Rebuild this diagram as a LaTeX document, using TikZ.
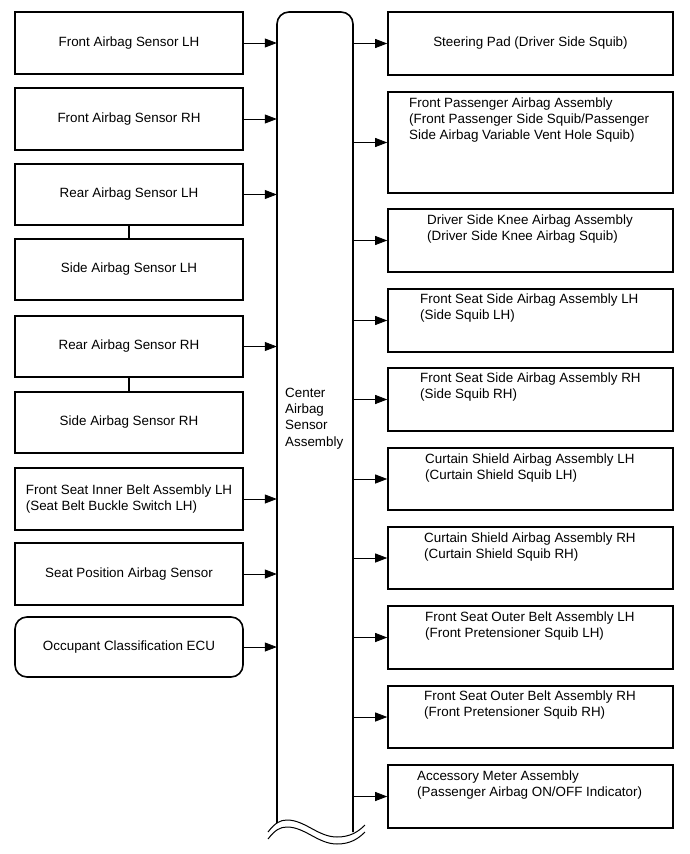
\documentclass[tikz,border=0pt]{standalone}
\usepackage{fontspec}
\setmainfont{Liberation Sans}
\usetikzlibrary{arrows.meta}
\begin{document}
\begin{tikzpicture}[x=1pt,y=-1pt,
  every node/.style={font=\fontsize{13.4}{16.3}\selectfont},
  lbox/.style={draw,line width=1.6pt,minimum width=228pt,minimum height=62pt,inner sep=0pt,align=center},
  rbox/.style={draw,line width=1.6pt,minimum width=285pt,inner sep=0pt},
  txt/.style={anchor=base west,inner sep=0pt,align=left},
  conn/.style={line width=0.8pt,-{Triangle[length=12pt,width=9pt]}},
  link/.style={line width=1.2pt}]
\useasboundingbox (0,0) rectangle (690,854);
% left boxes
\node[lbox] (l1) at (129,43) {Front Airbag Sensor LH};
\node[lbox] (l2) at (129,119) {Front Airbag Sensor RH};
\node[lbox,minimum height=61pt] (l3) at (129,194.5) {Rear Airbag Sensor LH};
\node[lbox,minimum height=61pt] (l4) at (129,269.5) {Side Airbag Sensor LH};
\node[lbox,minimum height=61pt] (l5) at (129,346.5) {Rear Airbag Sensor RH};
\node[lbox,minimum height=61pt] (l6) at (129,422.5) {Side Airbag Sensor RH};
\node[lbox,align=left] (l7) at (129,499) {Front Seat Inner Belt Assembly LH\\(Seat Belt Buckle Switch LH)};
\node[lbox] (l8) at (129,574) {Seat Position Airbag Sensor};
\node[lbox,rounded corners=12pt,minimum height=60pt] (l9) at (129,647) {Occupant Classification ECU};
\draw[link] (l3.south) -- (l4.north);
\draw[link] (l5.south) -- (l6.north);
% center box
\node[minimum width=76pt,minimum height=811pt,inner sep=0pt] (cab) at (315,417.5) {};
\draw[line width=1.6pt,rounded corners=12pt] (277,823) -- (277,12) -- (353,12) -- (353,832);
\draw[line width=1pt] (268,832) .. controls (275,823) and (280,820) .. (287,820) .. controls (305,820) and (318,837) .. (337,837) .. controls (350,837) and (358,832) .. (365,825);
\draw[line width=1pt] (268,839) .. controls (275,830) and (280,827) .. (287,827) .. controls (305,827) and (318,844) .. (337,844) .. controls (350,844) and (358,839) .. (365,832);
\node[txt] (ctext) at (285,446) {Center\\Airbag\\Sensor\\Assembly};
% right boxes
\node[rbox,minimum height=63pt,align=center] (r1) at (530.5,43.5) {Steering Pad (Driver Side Squib)};
\node[rbox,minimum height=101pt] (r2) at (530.5,142.5) {};
\node[rbox,minimum height=63pt] (r3) at (530.5,240.5) {};
\node[rbox,minimum height=63pt] (r4) at (530.5,320.5) {};
\node[rbox,minimum height=63pt] (r5) at (530.5,399.5) {};
\node[rbox,minimum height=62pt] (r6) at (530.5,479) {};
\node[rbox,minimum height=62pt] (r7) at (530.5,558) {};
\node[rbox,minimum height=63pt] (r8) at (530.5,637.5) {};
\node[rbox,minimum height=62pt] (r9) at (530.5,717) {};
\node[rbox,minimum height=63pt] (r10) at (530.5,796.5) {};
\node[txt] (t2) at (409,139.6) {Front Passenger Airbag Assembly\\(Front Passenger Side Squib/Passenger\\Side Airbag Variable Vent Hole Squib)};
\node[txt] (t3) at (427,240.3) {Driver Side Knee Airbag Assembly\\(Driver Side Knee Airbag Squib)};
\node[txt] (t4) at (420,319.3) {Front Seat Side Airbag Assembly LH\\(Side Squib LH)};
\node[txt] (t5) at (420,398.3) {Front Seat Side Airbag Assembly RH\\(Side Squib RH)};
\node[txt] (t6) at (425,479.3) {Curtain Shield Airbag Assembly LH\\(Curtain Shield Squib LH)};
\node[txt] (t7) at (424,558.3) {Curtain Shield Airbag Assembly RH\\(Curtain Shield Squib RH)};
\node[txt] (t8) at (425,637.3) {Front Seat Outer Belt Assembly LH\\(Front Pretensioner Squib LH)};
\node[txt] (t9) at (424,716.3) {Front Seat Outer Belt Assembly RH\\(Front Pretensioner Squib RH)};
\node[txt] (t10) at (417,796.3) {Accessory Meter Assembly\\(Passenger Airbag ON/OFF Indicator)};
% connectors
\foreach \n in {l1,l2,l3,l5,l7,l8,l9}
  \draw[conn] (\n.east) -- (\n.east -| cab.west);
\foreach \n in {r1,r2,r3,r4,r5,r6,r7,r8,r9,r10}
  \draw[conn] (\n.west -| cab.east) -- (\n.west);
\end{tikzpicture}
\end{document}
